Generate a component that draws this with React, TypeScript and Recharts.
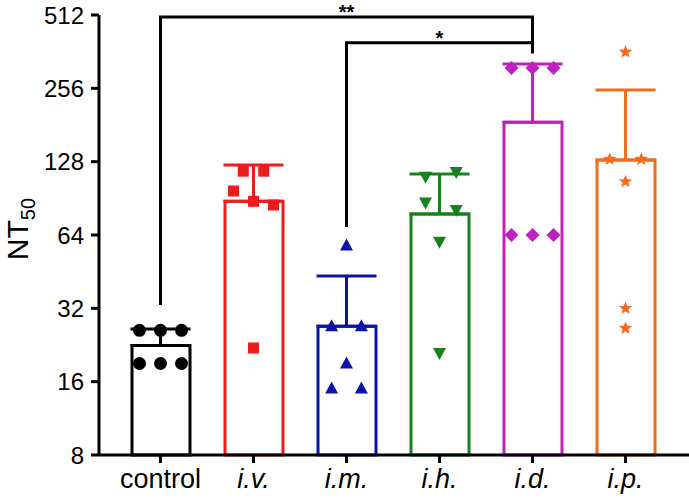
import React from "react"
import {
  ComposedChart,
  Bar,
  Cell,
  Scatter,
  Line,
  ErrorBar,
  XAxis,
  YAxis,
} from "recharts"

// groups along the x axis
const categories = ["control", "i.v.", "i.m.", "i.h.", "i.d.", "i.p."]
const colors = ["#000000", "#ee1c1c", "#0b14a6", "#18801c", "#c020c0", "#f26b1f"]

// bar heights (mean) and top of the error bar (mean + SD)
const barMeans = [22.5, 88, 27, 78, 186, 130]
const errTops = [26.3, 124, 43.4, 114, 322, 252]

// individual animals per group
const controlPts = [26, 26, 26, 19, 19, 19]
const ivPts = [117, 117, 97, 88, 85, 22]
const imPts = [58, 27, 27, 19, 15, 15]
const ihPts = [111, 116, 87, 81, 60, 21]
const idPts = [310, 310, 310, 64, 64, 64]
const ipPts = [361, 131, 131, 106, 32, 26.5]

// horizontal jitter of the points, in category widths
const controlJitter = [-0.226, 0, 0.226, -0.226, 0, 0.226]
const ivJitter = [-0.11, 0.11, -0.215, 0, 0.215, 0]
const imJitter = [0, -0.16, 0.16, 0, -0.16, 0.16]
const ihJitter = [-0.15, 0.18, -0.15, 0.18, 0, 0]
const idJitter = [-0.226, 0, 0.226, -0.226, 0, 0.226]
const ipJitter = [0, -0.17, 0.17, 0, 0, 0]

const yTicks = [8, 16, 32, 64, 128, 256, 512]

// significance brackets: group indexes, bracket height, leg ends
const bracketFrom = [0, 2]
const bracketTo = [4, 4]
const bracketTop = [502, 394]
const bracketLeftEnd = [33, 69]
const bracketRightEnd = [357, 357]
const bracketLabel = ["**", "*"]

const groupPts = [controlPts, ivPts, imPts, ihPts, idPts, ipPts]
const groupJitter = [controlJitter, ivJitter, imJitter, ihJitter, idJitter, ipJitter]

const rows = categories.map((name, i) => ({ name, y: barMeans[i] }))

const FONT = "'Liberation Sans', Arial, Helvetica, sans-serif"

type Mark = "circle" | "square" | "triangle" | "triangleDown" | "diamond" | "star"
const marks: Mark[] = ["circle", "square", "triangle", "triangleDown", "diamond", "star"]

function makeShape(kind: Mark, color: string) {
  return (props: any) => {
    const { cx, cy } = props
    if (cx == null || cy == null) return <g />
    switch (kind) {
      case "circle":
        return <circle cx={cx} cy={cy} r={6.5} fill={color} />
      case "square":
        return <rect x={cx - 5.5} y={cy - 5.5} width={11} height={11} fill={color} />
      case "triangle":
        return (
          <polygon
            points={`${cx},${cy - 7} ${cx - 6.5},${cy + 5} ${cx + 6.5},${cy + 5}`}
            fill={color}
          />
        )
      case "triangleDown":
        return (
          <polygon
            points={`${cx},${cy + 7} ${cx - 6.5},${cy - 5} ${cx + 6.5},${cy - 5}`}
            fill={color}
          />
        )
      case "diamond":
        return (
          <polygon
            points={`${cx},${cy - 7} ${cx + 7},${cy} ${cx},${cy + 7} ${cx - 7},${cy}`}
            fill={color}
          />
        )
      case "star": {
        const pts: string[] = []
        for (let k = 0; k < 10; k++) {
          const r = k % 2 === 0 ? 7 : 3
          const a = -Math.PI / 2 + (k * Math.PI) / 5
          pts.push(`${cx + r * Math.cos(a)},${cy + r * Math.sin(a)}`)
        }
        return <polygon points={pts.join(" ")} fill={color} />
      }
    }
    return <g />
  }
}

const CatTick = (props: any) => {
  const { x, y, payload } = props
  const italic = payload.value !== "control"
  return (
    <text
      x={x}
      y={y}
      dy="0.71em"
      textAnchor="middle"
      fontSize={27}
      fontFamily={FONT}
      fontStyle={italic ? "italic" : "normal"}
      fill="#000"
    >
      {payload.value}
    </text>
  )
}

const YLabel = () => (
  <text
    transform="translate(28, 229) rotate(-90)"
    textAnchor="middle"
    fontSize={30}
    fontFamily={FONT}
    fill="#000"
  >
    NT
    <tspan fontSize={20} dy={7}>
      50
    </tspan>
  </text>
)

export default function App() {
  const pad = { left: 15, right: 17 }
  return (
    <div style={{ position: "absolute", left: 0, top: 0, width: 689, height: 498, background: "#fff" }}>
      <ComposedChart
        width={689}
        height={498}
        data={rows}
        margin={{ top: 15, right: 0, bottom: 0, left: 0 }}
      >
        <XAxis
          xAxisId="cat"
          dataKey="name"
          type="category"
          padding={pad}
          height={43}
          tickSize={8}
          tickMargin={6}
          axisLine={{ stroke: "#000", strokeWidth: 3 }}
          tickLine={{ stroke: "#000", strokeWidth: 3 }}
          tick={<CatTick />}
          interval={0}
        />
        <XAxis xAxisId="num" dataKey="x" type="number" domain={[0, 6]} padding={pad} hide />
        <YAxis
          dataKey="y"
          type="number"
          scale="log"
          domain={[8, 512]}
          ticks={yTicks}
          interval={0}
          width={99}
          tickSize={8}
          tickMargin={7}
          axisLine={{ stroke: "#000", strokeWidth: 3 }}
          tickLine={{ stroke: "#000", strokeWidth: 3 }}
          tick={{ fontSize: 24, fontFamily: FONT, fill: "#000" }}
          label={<YLabel />}
        />

        <Bar
          xAxisId="cat"
          dataKey="y"
          barSize={58}
          fill="#fff"
          strokeWidth={3}
          isAnimationActive={false}
        >
          {rows.map((r, i) => (
            <Cell key={r.name} stroke={colors[i]} fill="#fff" />
          ))}
        </Bar>

        {categories.map((c, i) => (
          <Scatter
            key={"err-" + c}
            xAxisId="num"
            dataKey="y"
            data={[{ x: i + 0.5, y: barMeans[i], err: [0, errTops[i] - barMeans[i]] }]}
            shape={() => <g />}
            isAnimationActive={false}
          >
            <ErrorBar
              dataKey="err"
              direction="y"
              width={30}
              strokeWidth={3}
              stroke={colors[i]}
              isAnimationActive={false}
            />
          </Scatter>
        ))}

        {categories.map((c, i) => (
          <Scatter
            key={"pts-" + c}
            xAxisId="num"
            dataKey="y"
            data={groupPts[i].map((v, j) => ({ x: i + 0.5 + groupJitter[i][j], y: v }))}
            shape={makeShape(marks[i], colors[i])}
            isAnimationActive={false}
          />
        ))}

        {bracketLabel.map((lab, b) => (
          <Line
            key={"br-" + b}
            xAxisId="num"
            dataKey="y"
            type="linear"
            data={[
              { x: bracketFrom[b] + 0.5, y: bracketLeftEnd[b] },
              { x: bracketFrom[b] + 0.5, y: bracketTop[b] },
              { x: bracketTo[b] + 0.5, y: bracketTop[b] },
              { x: bracketTo[b] + 0.5, y: bracketRightEnd[b] },
            ]}
            stroke="#000"
            strokeWidth={3}
            strokeLinejoin="miter"
            dot={false}
            activeDot={false}
            isAnimationActive={false}
          />
        ))}

        <Scatter
          xAxisId="num"
          dataKey="y"
          data={bracketLabel.map((lab, b) => ({
            x: (bracketFrom[b] + bracketTo[b]) / 2 + 0.5,
            y: bracketTop[b],
            lab,
          }))}
          shape={(p: any) => (
            <text
              x={p.cx}
              y={p.cy + 2}
              textAnchor="middle"
              fontSize={20}
              fontWeight="bold"
              fontFamily={FONT}
              fill="#000"
            >
              {p.payload.lab}
            </text>
          )}
          isAnimationActive={false}
        />
      </ComposedChart>
    </div>
  )
}
